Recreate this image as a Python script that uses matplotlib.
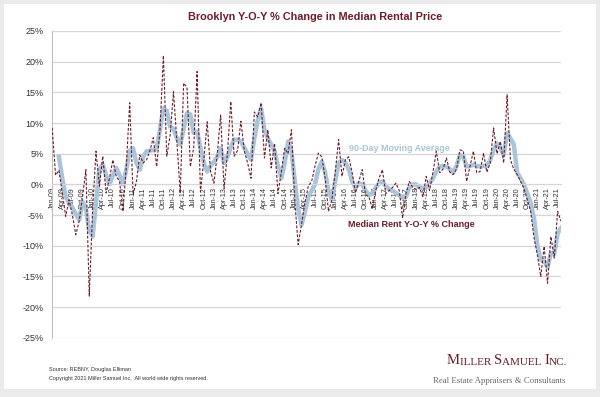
import matplotlib.pyplot as plt
from matplotlib.patches import Rectangle
import pandas as pd

# monthly Y-O-Y % change, Jan-09 .. Aug-21
median_rent_yoy = [
    9.2, 1.5, 2.3, -1.5, -5.2, -2.5, -5.0, -8.2, -6.0, -2.0, 2.4, -18.2,
    -4.0, 5.4, -0.3, 4.6, -1.4, 1.0, 4.0, 1.3, 0.5, -4.4, 3.0, 13.3,
    -1.7, 0.5, 4.8, 3.5, 4.0, 5.5, 7.6, 2.9, 9.0, 21.0, 4.6, 8.0,
    15.1, 7.0, -1.4, 16.5, 15.8, 2.9, 6.0, 18.4, -1.2, 4.0, 10.2, 2.1,
    0.2, 5.0, 11.3, -0.7, 5.0, 13.5, 4.6, 5.5, 10.3, 5.5, 3.5, 1.0,
    11.8, 11.0, 13.3, 4.3, 8.9, 2.7, 6.7, -1.5, 2.0, 5.9, 5.0, 8.9,
    -2.8, -9.8, -6.5, -3.0, -0.3, 0.5, 3.0, 5.1, 4.5, 1.0, -4.4, -2.5,
    2.0, 7.3, 1.3, 4.0, 4.5, 2.0, -1.4, 0.5, 2.4, -1.7, -2.0, -4.0,
    -1.0, 1.0, 2.4, -1.5, -1.0, -0.5, 0.2, -1.0, -5.5, -1.5, 0.5, -0.5,
    -0.8, -0.5, -2.0, 1.3, -1.0, 2.0, 5.4, 1.9, 2.5, 4.3, 2.0, 1.6,
    2.5, 5.6, 5.5, 0.5, 3.0, 5.4, 1.9, 2.1, 5.1, 2.0, 3.5, 9.2,
    5.0, 7.0, 3.5, 14.6, 4.0, 2.5, 1.6, 0.5, -0.6, -2.5, -4.4, -8.7,
    -11.5, -15.0, -10.1, -16.1, -8.5, -12.0, -4.4, -6.0,
]

# 90-day moving average, starts Mar-09
ma_start = 2
moving_avg = [
    4.5, 1.0, -2.0, -3.0, -3.8, -4.8, -5.8, -2.8, -4.0, -7.5,
    -8.5, -3.0, 2.5, 3.2, 1.5, 0.0, 1.5, 2.7, 1.5, 0.0, 2.5, 5.5,
    5.9, 3.5, 2.4, 4.5, 5.4, 5.5, 5.6, 5.9, 9.0, 12.4, 12.0, 9.4,
    9.0, 7.5, 6.5, 9.0, 11.6, 11.4, 8.4, 8.6, 6.0, 3.5, 2.1, 3.0,
    3.7, 4.5, 5.9, 3.5, 4.5, 6.0, 7.3, 7.3, 7.0, 6.0, 5.0, 4.0,
    7.5, 10.5, 12.4, 8.9, 7.5, 6.5, 5.4, 3.0, 1.0, 3.5, 7.0, 5.5,
    0.5, -4.0, -6.6, -4.5, -2.0, -1.0, 0.0, 2.5, 3.7, 2.0, -1.0, -2.5,
    0.5, 3.5, 4.0, 3.5, 2.5, 0.5, -0.6, 0.2, 0.0, -1.0, -1.7, -1.5,
    -0.5, 0.2, 0.5, -0.3, -0.8, -1.0, -1.4, -1.8, -2.2, -2.0, -0.5, 0.0,
    0.0, -0.5, -0.6, -0.5, 0.2, 1.0, 2.1, 2.9, 3.0, 2.9, 2.5, 1.9,
    3.0, 4.8, 4.5, 2.9, 3.0, 3.2, 3.0, 2.9, 3.0, 3.0, 4.0, 5.6,
    6.7, 6.0, 4.8, 8.4, 7.5, 6.5, 1.9, 1.0, 0.0, -1.5, -3.0, -5.5,
    -10.0, -12.3, -12.5, -13.5, -11.2, -11.3, -8.0, -7.1,
]

months = pd.date_range('2009-01-01', periods=len(median_rent_yoy), freq='MS')
month_labels = list(months.strftime('%b-%y'))
y_ticks = list(range(-25, 30, 5))

maroon = '#6e1c2b'
blue = '#a9c5da'
plt.rcParams['font.family'] = ['Liberation Sans', 'DejaVu Sans']

fig = plt.figure(figsize=(6, 3.97), dpi=100)
fig.patch.set_facecolor('#ebebeb')
fig.add_artist(Rectangle((0.006, 0.02), 0.988, 0.971, transform=fig.transFigure,
                         facecolor='white', edgecolor='none', zorder=-1))

ax = fig.add_axes([0.087, 0.149, 0.848, 0.773])
ax.set_facecolor('none')
for s in ['top', 'right']:
    ax.spines[s].set_visible(False)
ax.spines['bottom'].set_position(('data', 0))
ax.spines['bottom'].set_color('#d6d6d6')
ax.spines['left'].set_color('#bfbfbf')

ax.plot(range(ma_start, ma_start + len(moving_avg)), moving_avg,
        color=blue, lw=3.2, solid_joinstyle='round', zorder=2)
ax.plot(range(len(median_rent_yoy)), median_rent_yoy,
        color=maroon, lw=0.8, ls=(0, (2.5, 1.5)), zorder=3)

ax.set_xlim(0, len(median_rent_yoy) - 1)
ax.set_ylim(-25, 25)
ax.set_yticks(y_ticks)
ax.set_yticklabels([f'{v}%' for v in y_ticks], fontsize=6.5, color='#333333')
ax.set_xticks(range(0, len(median_rent_yoy), 3))
ax.set_xticklabels(month_labels[::3], rotation=90, fontsize=5.2, color='#333333')
ax.tick_params(axis='both', length=0)
ax.tick_params(axis='x', pad=2)
ax.tick_params(axis='y', pad=6)
ax.yaxis.grid(True, color='#d6d6d6', lw=0.9)
ax.set_axisbelow(True)

ax.text(88.2, 5.8, '90-Day Moving Average', color=blue, fontsize=6.5,
        fontweight='bold', va='center', ha='left')
ax.text(87.9, -6.6, 'Median Rent Y-O-Y % Change', color=maroon, fontsize=6.5,
        fontweight='bold', va='center', ha='left')

fig.text(0.525, 0.957, 'Brooklyn Y-O-Y % Change in Median Rental Price',
         color=maroon, fontsize=7.8, fontweight='bold', ha='center', va='center')

fig.text(0.082, 0.07, 'Source: REBNY, Douglas Elliman', fontsize=4, color='#333333', va='center')
fig.text(0.082, 0.047, 'Copyright 2021 Miller Samuel Inc.  All world wide rights reserved.',
         fontsize=4, color='#333333', va='center')

# logo in small caps, built from pieces
serif = 'Liberation Serif'
pieces = [('M', 10.5), ('ILLER ', 8), ('S', 10.5), ('AMUEL ', 8), ('I', 10.5), ('NC.', 8)]
prev = fig.text(0.745, 0.075, pieces[0][0], fontsize=pieces[0][1], family=serif,
                color=maroon, va='bottom')
for txt, size in pieces[1:]:
    prev = ax.annotate(txt, xy=(1, 0), xycoords=prev, fontsize=size, family=serif,
                       color=maroon, va='bottom', ha='left', annotation_clip=False)
fig.text(0.943, 0.04, 'Real Estate Appraisers & Consultants', fontsize=6.3,
         family=serif, color='#6a6a6a', ha='right', va='center')

fig.savefig('out.png', dpi=100, facecolor=fig.get_facecolor())
